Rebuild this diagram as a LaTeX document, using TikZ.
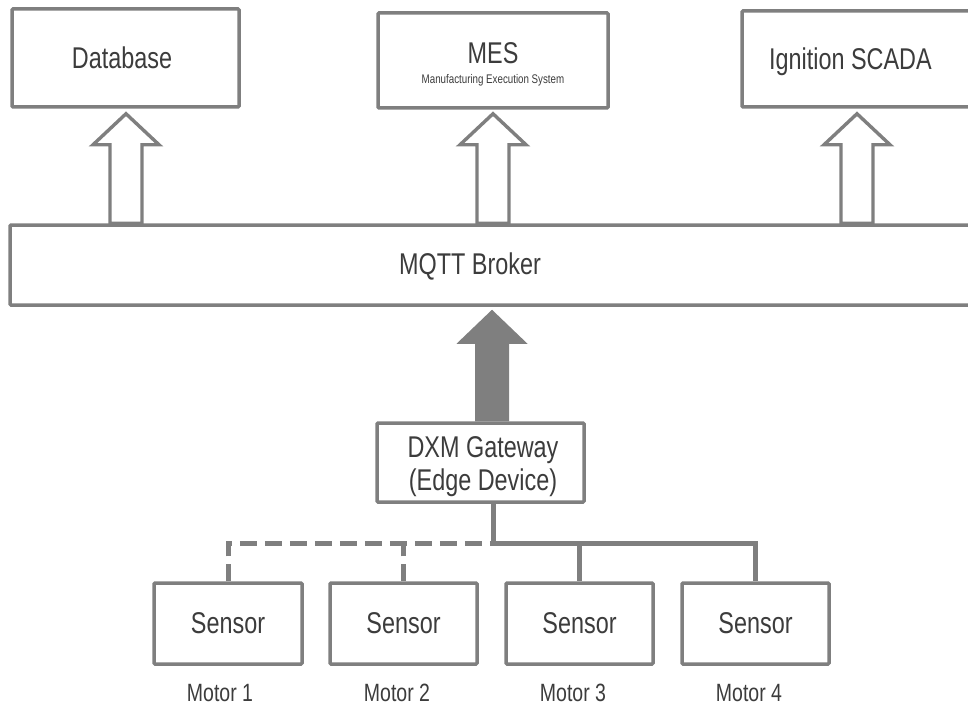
\documentclass[tikz,border=0pt]{standalone}
\usepackage{fontspec}
\setmainfont{Liberation Sans}[FakeStretch=0.78]
\usetikzlibrary{calc}
\definecolor{lc}{HTML}{7F7F7F}
\definecolor{tc}{HTML}{3C3C3C}
\newcommand\hollowarrow[2]{%
  \draw[harrow] let \p1=(#1), \p2=(#2) in
    (\x2-16pt,\y1) -- (\x2-16pt,\y2-31pt) -- (\x2-33pt,\y2-31pt) -- (\x2,\y2)
    -- (\x2+33pt,\y2-31pt) -- (\x2+16pt,\y2-31pt) -- (\x2+16pt,\y1) -- cycle;}
\newcommand\solidarrow[2]{%
  \fill[sarrow] let \p1=(#1), \p2=(#2) in
    (\x2-17pt,\y1) -- (\x2-17pt,\y2-34pt) -- (\x2-35.5pt,\y2-34pt) -- (\x2,\y2)
    -- (\x2+35.5pt,\y2-34pt) -- (\x2+17pt,\y2-34pt) -- (\x2+17pt,\y1) -- cycle;}
\begin{document}
\begin{tikzpicture}[x=1pt,y=-1pt,
  box/.style={draw=lc, line width=3.5pt, rounded corners=1pt, fill=white, text=tc,
    inner sep=0pt, font=\fontsize{30}{34}\selectfont},
  lbl/.style={text=tc, inner sep=0pt, font=\fontsize{30}{34}\selectfont},
  motor/.style={text=tc, inner sep=0pt, font=\fontsize{25}{28}\selectfont},
  wire/.style={draw=lc, line width=5pt, line join=miter},
  dashwire/.style={wire, dash pattern=on 17pt off 8pt},
  harrow/.style={draw=lc, line width=3.4pt, fill=white, line join=miter},
  sarrow/.style={fill=lc}]
\useasboundingbox (0,0) rectangle (968,706);
% top boxes
\node[box, minimum width=227pt, minimum height=98pt] (db) at (125.5,58) {};
\node[lbl] (dbt) at (122,58) {Database};
\node[box, minimum width=230pt, minimum height=95pt] (mes) at (493,60.5) {};
\node[lbl] (mest) at (493,53) {MES};
\node[text=tc, inner sep=0pt, font=\fontsize{12.5}{14}\selectfont] (mess) at (493,80) {Manufacturing Execution System};
\node[box, minimum width=250pt, minimum height=96pt] (scada) at (867,59) {};
\node[lbl, anchor=west] (scadat) at (769,62) {Ignition SCADA};
% broker
\node[box, minimum width=990pt, minimum height=80pt] (broker) at (505,265) {};
\node[lbl] (brokert) at (470,266) {MQTT Broker};
% gateway
\node[box, minimum width=207pt, minimum height=79pt] (gw) at (480.5,462.5) {};
\node[lbl, align=center, font=\fontsize{30}{33}\selectfont] (gwt) at (483,466.5) {DXM Gateway\\(Edge Device)};
% sensors
\node[box, minimum width=148pt, minimum height=81pt] (s1) at (228,623.5) {Sensor};
\node[box, minimum width=147pt, minimum height=81pt] (s2) at (403.5,623.5) {Sensor};
\node[box, minimum width=147pt, minimum height=81pt] (s3) at (579.5,623.5) {Sensor};
\node[box, minimum width=147pt, minimum height=81pt] (s4) at (755.5,623.5) {Sensor};
\node[motor] (m1) at (220,693) {Motor 1};
\node[motor] (m2) at (397,693) {Motor 2};
\node[motor] (m3) at (573,693) {Motor 3};
\node[motor] (m4) at (749,693) {Motor 4};
% hollow arrows
\coordinate (t1) at ($(db.south)+(0.5,5)$);
\coordinate (b1) at (broker.north -| t1);
\hollowarrow{b1}{t1}
\coordinate (t2) at ($(mes.south)+(0,4)$);
\coordinate (b2) at (broker.north -| t2);
\hollowarrow{b2}{t2}
\coordinate (t3) at ($(scada.south)+(-10,5)$);
\coordinate (b3) at (broker.north -| t3);
\hollowarrow{b3}{t3}
% solid arrow
\coordinate (t4) at ($(broker.south)+(-13,3)$);
\coordinate (b4) at (gw.north -| t4);
\solidarrow{b4}{t4}
% wires
\coordinate (j) at (493,543);
\draw[wire] (gw.south -| j) -- (j) -| (s4.north);
\draw[wire] (j -| s3.north) -- (s3.north);
\draw[dashwire] (s1.north) |- (j);
\draw[dashwire] (s2.north) -- (j -| s2.north);
\end{tikzpicture}
\end{document}
